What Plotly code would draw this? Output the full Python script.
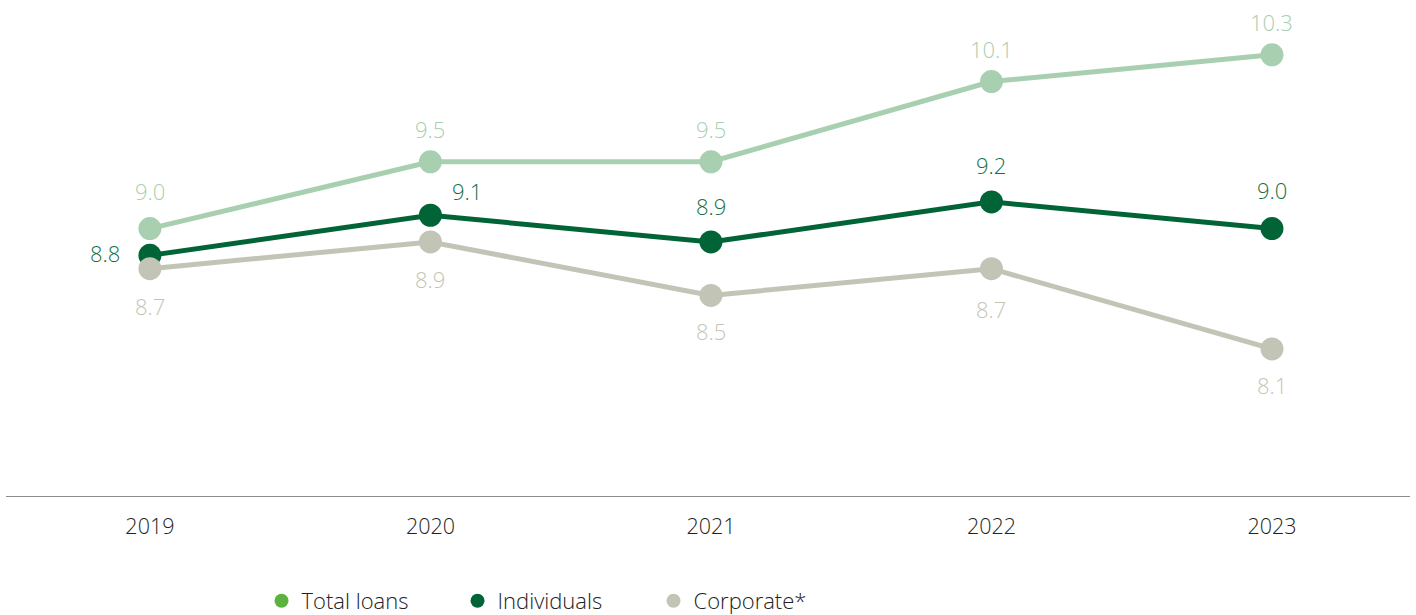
import plotly.graph_objects as go

years = ["2019", "2020", "2021", "2022", "2023"]
total_loans = [9.0, 9.5, 9.5, 10.1, 10.3]
individuals = [8.8, 9.1, 8.9, 9.2, 9.0]
corporate = [8.7, 8.9, 8.5, 8.7, 8.1]

FONT = "Open Sans"
C_TOTAL_LINE = "#a8cfb0"
C_TOTAL_LEGEND = "#5cb23e"
C_IND = "#006437"
C_IND_TEXT = "#17703f"
C_CORP = "#c2c5b5"

fig = go.Figure()

series = [
    ("Total loans", total_loans, C_TOTAL_LINE, C_TOTAL_LEGEND),
    ("Individuals", individuals, C_IND, C_IND),
    ("Corporate*", corporate, C_CORP, C_CORP),
]

for name, vals, line_c, _ in series:
    fig.add_trace(go.Scatter(
        x=years, y=vals, mode="lines+markers", name=name, showlegend=False,
        line=dict(color=line_c, width=5),
        marker=dict(color=line_c, size=23),
        cliponaxis=False, hoverinfo="skip",
    ))

# legend-only entries (legend swatch colours differ slightly from lines)
for name, _, _, leg_c in series:
    fig.add_trace(go.Scatter(
        x=[None], y=[None], mode="markers", name=name,
        marker=dict(color=leg_c, size=14),
    ))

# value labels: (dx, dy) pixel shifts per point
total_shift = [(0, 38), (0, 33), (0, 33), (0, 33), (0, 33)]
ind_shift = [(-45, 2), (37, 24), (0, 36), (0, 37), (0, 39)]
corp_shift = [(0, -37), (0, -37), (0, -36), (0, -40), (0, -36)]

label_sets = [
    (total_loans, total_shift, C_TOTAL_LINE),
    (individuals, ind_shift, C_IND_TEXT),
    (corporate, corp_shift, C_CORP),
]
for vals, shifts, col in label_sets:
    for i, (v, (dx, dy)) in enumerate(zip(vals, shifts)):
        # category axis: annotate by category index
        fig.add_annotation(
            x=i, y=v, xref="x", yref="y", text=f"{v:.1f}", showarrow=False,
            xshift=dx, yshift=dy,
            font=dict(family=FONT, size=22, color=col, weight=300),
        )

fig.update_layout(
    width=1416, height=615,
    margin=dict(l=6, r=6, t=0, b=119, autoexpand=False),
    paper_bgcolor="white", plot_bgcolor="white",
    font=dict(family=FONT, size=20, color="#333333"),
    xaxis=dict(
        type="category", range=[-0.513, 4.492],
        showgrid=False, zeroline=False,
        showline=True, linecolor="#8c8c8c", linewidth=1,
        ticks="outside", ticklen=11, tickcolor="rgba(0,0,0,0)",
        tickfont=dict(family=FONT, size=21.5, color="#222222", weight=300),
        automargin=False,
    ),
    yaxis=dict(
        range=[7.0, 10.71], visible=False, showgrid=False, zeroline=False,
    ),
    legend=dict(
        orientation="h", x=0.182, y=0.0228, xref="paper", yref="container",
        xanchor="left", yanchor="middle",
        font=dict(family=FONT, size=22, color="#222222", weight=300),
        entrywidth=151, entrywidthmode="pixels",
        bgcolor="rgba(0,0,0,0)",
    ),
    showlegend=True,
)

fig.write_html("out.html")
